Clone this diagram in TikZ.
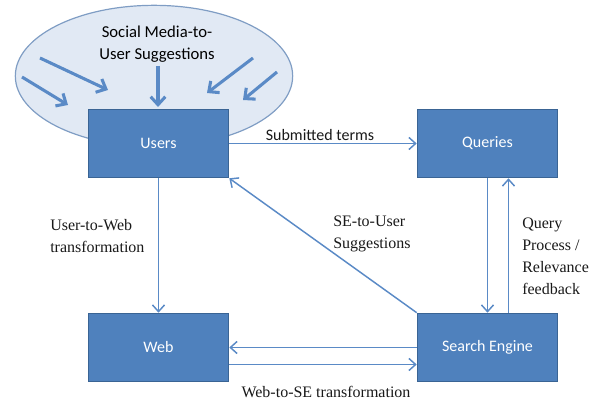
\documentclass[tikz,border=0pt]{standalone}
\usepackage{fontspec}
\setmainfont{Liberation Serif}
\newfontfamily\calibri{Carlito}
\newfontfamily\romain{Liberation Serif}
\usetikzlibrary{arrows.meta,shapes.geometric}
\definecolor{boite}{HTML}{4F81BD}
\definecolor{bord}{HTML}{3A6494}
\definecolor{fleche}{HTML}{5A8AC6}
\definecolor{nuage}{HTML}{E1E9F4}
\definecolor{nuagebord}{HTML}{7F9DC4}

\begin{document}
\begin{tikzpicture}[x=0.75pt,y=-0.75pt,
    bloc/.style={draw=bord, line width=1.2pt, fill=boite, minimum width=105pt, minimum height=51pt,
      font=\calibri\fontsize{12}{14}\selectfont, text=white},
    lien/.style={draw=fleche, line width=1.1pt, -{Straight Barb[length=5pt,width=9pt]}},
    gros/.style={draw=fleche, line width=2.3pt, -{Straight Barb[length=6pt,width=11pt]}},
    etiq/.style={inner sep=0pt, align=left, font=\romain\fontsize{12}{16.5}\selectfont, text=black!90}]
        % Le cadre fixe les marges de l'image.
        \useasboundingbox (0,0) rectangle (594,403);

        % L'ellipse des réseaux sociaux, derrière les utilisateurs :
        \node[ellipse, draw=nuagebord, line width=0.9pt, fill=nuage, minimum width=208pt, minimum height=106pt] (media) at (154,76) {};
        \node[inner sep=0pt, align=center, font=\calibri\fontsize{12.5}{16.5}\selectfont] (mediatxt) at (157,44) {Social Media-to-\\User Suggestions};

        % Les quatre blocs :
        \node[bloc] (users) at (158.5,143.5) {Users};
        \node[bloc] (queries) at (487.5,143.5) {Queries};
        \node[bloc] (web) at (158.5,347.5) {Web};
        \node[bloc] (se) at (487.5,347.5) {Search Engine};

        % Les points de départ et d'arrivée des flèches dans l'ellipse :
        \coordinate (d1) at (22,77);  \coordinate (f1) at (68,105);
        \coordinate (d2) at (40,58);  \coordinate (f2) at (108,90);
        \coordinate (d3) at (158,66); \coordinate (f3) at (158,107);
        \coordinate (d4) at (253,58); \coordinate (f4) at (207,93);
        \coordinate (d5) at (277,72); \coordinate (f5) at (243,100);
        \draw[gros] (d1) -- (f1);
        \draw[gros] (d2) -- (f2);
        \draw[gros] (d3) -- (f3);
        \draw[gros] (d4) -- (f4);
        \draw[gros] (d5) -- (f5);

        % Les liens entre les blocs :
        \draw[lien] (users) -- (queries);
        \draw[lien] (users) -- (web);
        \draw[lien] (se.north west) -- (users.south east);
        \draw[lien] (queries) -- (se);
        \draw[lien] ([xshift=15.75pt]se.north) -- ([xshift=15.75pt]queries.south);
        \draw[lien] (se.west) -- (web.east);
        \draw[lien] ([yshift=-12.75pt]web.east) -- ([yshift=-12.75pt]se.west);

        % Les textes des liens :
        \node[etiq, font=\calibri\fontsize{12}{14}\selectfont] (submitted) at (320,135) {Submitted terms};
        \node[etiq, anchor=west] (userweb) at (50,236) {User-to-Web\\transformation};
        \node[etiq, anchor=west] (seuser) at (333,234) {SE-to-User\\Suggestions};
        \node[etiq, anchor=west] (query) at (522,256.5) {Query\\Process /\\Relevance\\feedback};
        \node[etiq] (webse) at (326,392) {Web-to-SE transformation};
\end{tikzpicture}
\end{document}
